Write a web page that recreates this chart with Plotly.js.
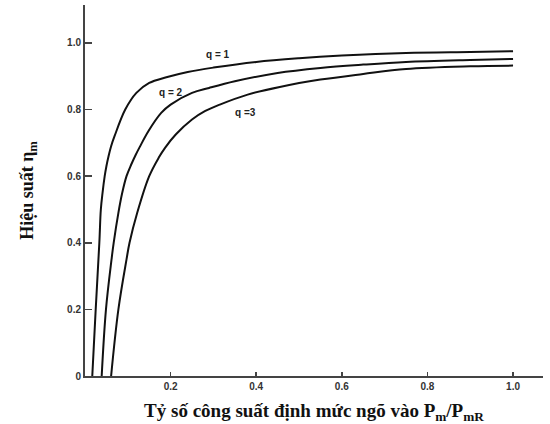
<!DOCTYPE html>
<html>
<head>
<meta charset="utf-8">
<script src="https://cdn.plot.ly/plotly-3.0.1.min.js"></script>
<style>html,body{margin:0;padding:0;background:#fff;}#chart{width:550px;height:424px;}</style>
</head>
<body>
<div id="chart"></div>
<script>
// Data
const q1X = [0.017, 0.025, 0.0335, 0.037, 0.041, 0.046, 0.050, 0.055, 0.061, 0.069, 0.094, 0.12, 0.15, 0.19, 0.24, 0.30, 0.40, 0.50, 0.60, 0.75, 0.90, 1.0];
const q1Y = [0, 0.2, 0.4, 0.5, 0.55, 0.6, 0.63, 0.66, 0.69, 0.72, 0.80, 0.85, 0.88, 0.897, 0.913, 0.926, 0.943, 0.954, 0.962, 0.970, 0.973, 0.975];

const q2X = [0.039, 0.049, 0.062, 0.067, 0.078, 0.087, 0.097, 0.108, 0.118, 0.128, 0.148, 0.178, 0.20, 0.25, 0.29, 0.35, 0.45, 0.55, 0.65, 0.75, 0.90, 1.0];
const q2Y = [0, 0.2, 0.35, 0.4, 0.49, 0.55, 0.6, 0.635, 0.663, 0.688, 0.735, 0.79, 0.815, 0.85, 0.865, 0.885, 0.91, 0.925, 0.935, 0.943, 0.949, 0.952];

const q3X = [0.061, 0.078, 0.097, 0.104, 0.122, 0.15, 0.172, 0.187, 0.212, 0.25, 0.28, 0.315, 0.38, 0.455, 0.55, 0.65, 0.75, 0.90, 1.0];
const q3Y = [0, 0.2, 0.35, 0.4, 0.49, 0.6, 0.655, 0.685, 0.725, 0.77, 0.795, 0.815, 0.845, 0.868, 0.89, 0.907, 0.922, 0.930, 0.932];

const curveLabels = ["q = 1", "q = 2", "q =3"];
const labelX = [0.31, 0.20, 0.376];
const labelY = [0.964, 0.85, 0.79];

const xTicks = [0.2, 0.4, 0.6, 0.8, 1.0];
const xTickText = ["0.2", "0.4", "0.6", "0.8", "1.0"];
const yTicks = [0, 0.2, 0.4, 0.6, 0.8, 1.0];
const yTickText = ["0", "0.2", "0.4", "0.6", "0.8", "1.0"];

const lineStyle = {color: "#111", width: 2, shape: "spline", smoothing: 1};
const traces = [
  {x: q1X, y: q1Y, mode: "lines", line: lineStyle, hoverinfo: "skip"},
  {x: q2X, y: q2Y, mode: "lines", line: lineStyle, hoverinfo: "skip"},
  {x: q3X, y: q3Y, mode: "lines", line: lineStyle, hoverinfo: "skip"}
];

const annotations = curveLabels.map((t, i) => ({
  x: labelX[i], y: labelY[i], xref: "x", yref: "y", text: "<b>" + t + "</b>",
  showarrow: false, font: {family: "Arial, Liberation Sans, sans-serif", size: 10, color: "#222"}
}));

const layout = {
  width: 550, height: 424,
  margin: {l: 85, r: 6.5, t: 5, b: 48, pad: 0},
  paper_bgcolor: "#fff", plot_bgcolor: "#fff",
  showlegend: false,
  xaxis: {
    range: [0, 1.07], showgrid: false, zeroline: false,
    showline: true, linecolor: "#444", linewidth: 1.5,
    ticks: "inside", ticklen: 4, tickwidth: 1.5, tickcolor: "#444",
    tickvals: xTicks, ticktext: xTickText,
    tickfont: {family: "Arial, Liberation Sans, sans-serif", size: 10, color: "#333", weight: "bold"},
    title: {text: "<b>Tỷ số công suất định mức ngõ vào P<sub>m</sub>/P<sub>mR</sub></b>",
            font: {family: "Liberation Serif, Times New Roman, serif", size: 19, color: "#111"}, standoff: 14}
  },
  yaxis: {
    range: [0, 1.114], showgrid: false, zeroline: false,
    showline: true, linecolor: "#444", linewidth: 2,
    ticks: "inside", ticklen: 7, tickwidth: 1.5, tickcolor: "#444",
    tickvals: yTicks, ticktext: yTickText,
    tickfont: {family: "Arial, Liberation Sans, sans-serif", size: 10, color: "#333", weight: "bold"},
    title: {text: "<b>Hiệu suất η<sub>m</sub></b>",
            font: {family: "Liberation Serif, Times New Roman, serif", size: 18, color: "#111"}, standoff: 29}
  },
  annotations: annotations
};

Plotly.newPlot("chart", traces, layout, {displayModeBar: false, staticPlot: true});
</script>
</body>
</html>
